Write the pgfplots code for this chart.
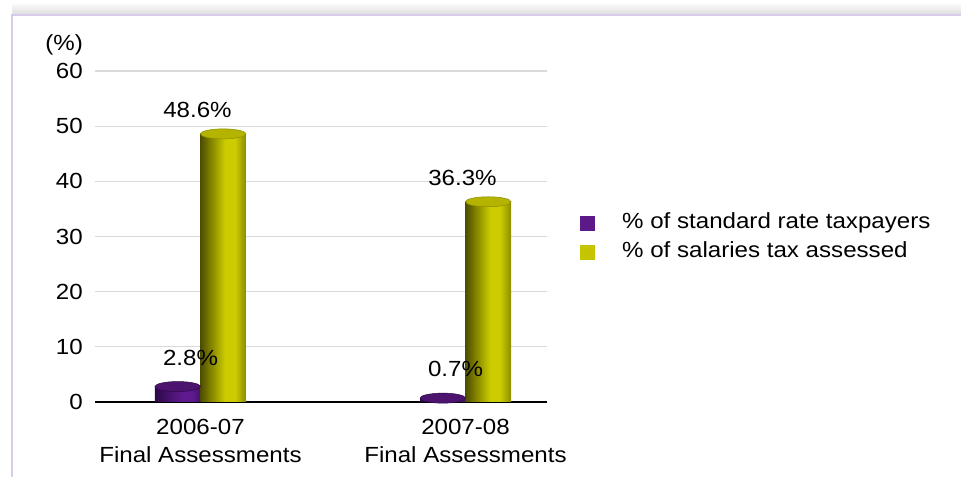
\documentclass[border=0pt]{standalone}
\usepackage{fontspec}
\setmainfont{Liberation Sans}[FakeStretch=1.1]
\usepackage{pgfplots}
\pgfplotsset{compat=1.18}
\definecolor{purA}{HTML}{2E0846}
\definecolor{purB}{HTML}{5E1A8E}
\definecolor{purC}{HTML}{46126C}
\definecolor{purTop}{HTML}{4C146F}
\definecolor{yelA}{HTML}{4E4E00}
\definecolor{yelB}{HTML}{CCCC00}
\definecolor{yelC}{HTML}{8C8C00}
\definecolor{yelTop}{HTML}{B4B400}
\definecolor{legPur}{HTML}{5B1A88}
\definecolor{legYel}{HTML}{C4C400}
\definecolor{gridgray}{HTML}{DADADA}
\definecolor{frameLav}{HTML}{D9CBEA}
\pgfdeclarehorizontalshading{purcyl}{100bp}{color(0bp)=(purA); color(25bp)=(purA); color(55bp)=(purB); color(66bp)=(purB); color(75bp)=(purC); color(100bp)=(purC)}
\pgfdeclarehorizontalshading{yelcyl}{100bp}{color(0bp)=(yelA); color(25bp)=(yelA); color(52bp)=(yelB); color(63bp)=(yelB); color(75bp)=(yelC); color(100bp)=(yelC)}
\newcommand{\lfont}{\fontsize{22}{28}\selectfont}
\pgfplotsset{
  purbar/.style={ybar, bar width=45.5bp, bar shift=-22.75bp, draw=none, shade, shading=purcyl, forget plot,
    nodes near coords={\pgfmathprintnumber[fixed,precision=1,fixed zerofill]{\pgfplotspointmeta}\%},
    every node near coord/.append style={font=\lfont, inner sep=0pt, anchor=south, yshift=21bp, xshift=-10bp, text=black}},
  yelbar/.style={ybar, bar width=45.5bp, bar shift=22.75bp, draw=none, shade, shading=yelcyl, forget plot,
    nodes near coords={\pgfmathprintnumber[fixed,precision=1,fixed zerofill]{\pgfplotspointmeta}\%},
    every node near coord/.append style={font=\lfont, inner sep=0pt, anchor=south, yshift=16bp, xshift=-3bp, text=black}},
}
\begin{document}
\begin{tikzpicture}
\useasboundingbox (0,0) rectangle (961bp,477bp);
\shade[top color=white, bottom color=black!14] (12bp,462bp) rectangle (961bp,475bp);
\draw[frameLav, line width=2bp] (12bp,0bp) -- (12bp,462bp) -- (961bp,462bp);
\node[anchor=east, inner sep=0pt, font=\lfont] at (83bp,432bp) {(\%)};
\begin{axis}[
  at={(95bp,75bp)}, anchor=south west, scale only axis,
  width=452bp, height=331bp,
  xmin=-0.398, xmax=1.3075, ymin=0, ymax=60,
  axis x line=bottom, axis y line=left,
  axis line style={-},
  x axis line style={black, line width=1.5bp},
  y axis line style={draw=none},
  xtick={0,1},
  xticklabels={{2006-07\\Final Assessments},{2007-08\\Final Assessments}},
  xticklabel style={align=center, font=\lfont, inner sep=0pt, yshift=-17bp},
  ytick={0,10,...,60},
  yticklabel style={font=\lfont, inner sep=0pt, xshift=-12bp},
  major tick length=0pt,
  ymajorgrids, grid style={gridgray, line width=1.2bp},
  /pgf/number format/assume math mode=true,
  legend style={at={(1.073,0.494)}, anchor=west, draw=none, fill=none,
    font=\lfont, inner sep=0pt, row sep=9bp,
    nodes={inner sep=0pt, text height=15bp, text depth=5bp}},
  legend cell align=left,
]
\addlegendimage{legend image code/.code={\fill[legPur, draw=none] (0bp,-7.5bp) rectangle (15bp,7.5bp); \path[draw=none, fill=none] (0bp,0bp) -- (42bp,0bp);}}
\addlegendentry{\% of standard rate taxpayers}
\addlegendimage{legend image code/.code={\fill[legYel, draw=none] (0bp,-7.5bp) rectangle (15bp,7.5bp); \path[draw=none, fill=none] (0bp,0bp) -- (42bp,0bp);}}
\addlegendentry{\% of salaries tax assessed}

\addplot[purbar] coordinates {(0,2.8)};
\addplot[purbar] coordinates {(1,0.7)};
\addplot[only marks, mark=*, mark size=22.75bp, forget plot,
  mark options={xshift=-22.75bp, yscale=0.22, fill=purTop, draw=purA, line width=0.5bp}]
  coordinates {(0,2.8) (1,0.7)};

\addplot[yelbar] coordinates {(0,48.6)};
\addplot[yelbar] coordinates {(1,36.3)};
\addplot[only marks, mark=*, mark size=22.75bp, forget plot,
  mark options={xshift=22.75bp, yscale=0.22, fill=yelTop, draw=yelC, line width=0.5bp}]
  coordinates {(0,48.6) (1,36.3)};
\end{axis}
\end{tikzpicture}
\end{document}
